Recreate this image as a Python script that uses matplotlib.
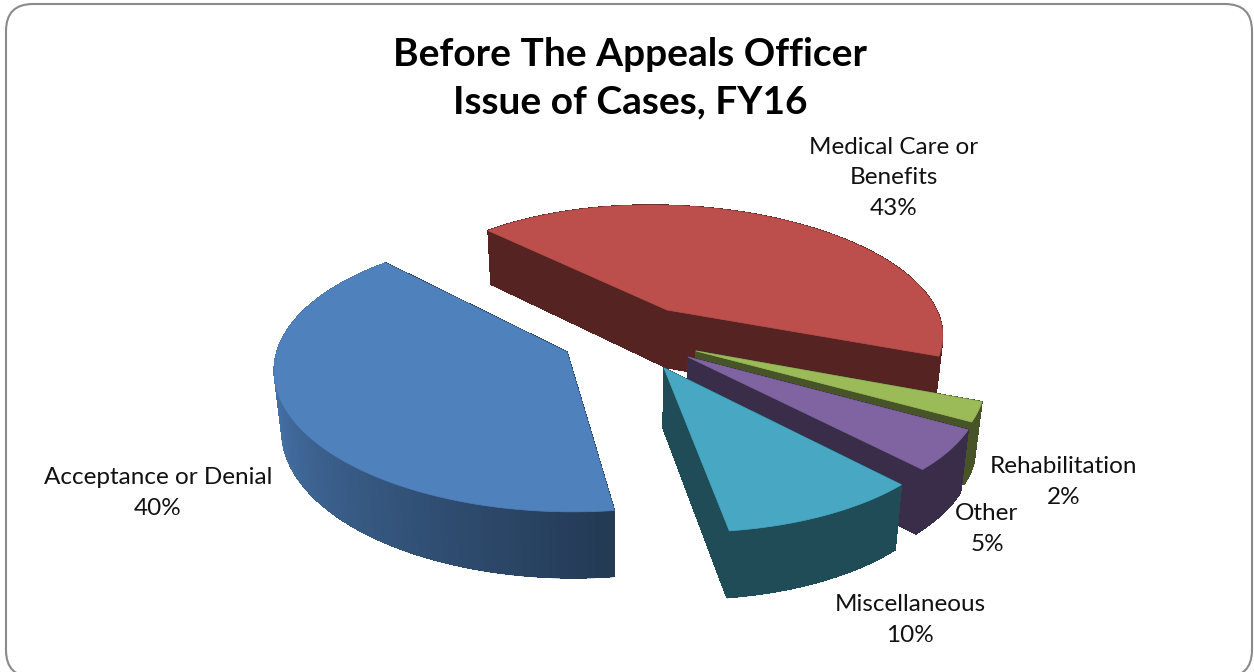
import numpy as np
import matplotlib
matplotlib.use('Agg')
import matplotlib.pyplot as plt
from matplotlib.patches import FancyBboxPatch, Polygon

plt.rcParams['font.family'] = ['Lato', 'DejaVu Sans']

title = 'Before The Appeals Officer\nIssue of Cases, FY16'
labels = ['Medical Care or\nBenefits', 'Rehabilitation', 'Other', 'Miscellaneous', 'Acceptance or Denial']
# labels show these rounded; the unrounded values are estimated from the slice widths
shares = [42.9, 2.4, 5.0, 9.7, 40.0]

colors = ['#bc4f4c', '#9bbb59', '#8064a2', '#48a8c4', '#4f81bd']
# where each slice's tip sits on the floor of the pie, and its radius
explode_u = [0.4824, 0.5611, 0.5296, 0.4411, 0.1114]
explode_v = [-0.2762, 0.0452, 0.0897, 0.1698, 0.0526]
radius = [0.985, 0.98, 0.99, 1.0, 1.01]
label_xy = [(894, 178), (1064, 482), (987, 529), (910, 620), (158, 493)]

START = -133.0
CX, CY, A, B, K = 535.0, 345.0, 285.0, 132.0, 0.15


def project(u, v):
    den = 1 - K * v
    return CX + A * u / den, CY + B * v / den


def drop(u, v):
    """Screen position of the underside of a floor point"""
    x, y = project(u, v)
    return x - (x - 620) * 0.022, y + 59 / (1 - 0.1 * v)


def shade(color, phi):
    f = 0.45 + 0.5 * np.clip((phi - 84) / 96, 0, 1)
    return tuple(c * f for c in matplotlib.colors.to_rgb(color))


def draw_slice(ax, start, sweep, color, ou, ov, r):
    phis = np.linspace(start, start + sweep, max(int(sweep / 0.6), 4))
    us = ou + r * np.cos(np.radians(phis))
    vs = ov + r * np.sin(np.radians(phis))

    faces = []
    for i in range(len(phis) - 1):
        quad = [project(us[i], vs[i]), project(us[i + 1], vs[i + 1]),
                drop(us[i + 1], vs[i + 1]), drop(us[i], vs[i])]
        faces.append((quad, shade(color, phis[i])))
    for k in (0, -1):
        quad = [project(ou, ov), project(us[k], vs[k]), drop(us[k], vs[k]), drop(ou, ov)]
        faces.append((quad, shade(color, 0)))

    # aliased fill so the strips don't show seams, then a smooth stroke along the lower edge
    faces.sort(key=lambda f: np.mean([p[1] for p in f[0]]))
    for quad, col in faces:
        xs, ys = zip(quad[2], quad[3])
        ax.plot(xs, ys, color=col, lw=0.9, solid_capstyle='round', zorder=1)
        ax.add_patch(Polygon(quad, closed=True, facecolor=col, edgecolor=col, lw=0.4,
                             antialiased=False, zorder=1))

    top = [project(ou, ov)] + [project(a, b) for a, b in zip(us, vs)]
    ax.add_patch(Polygon(top, closed=True, facecolor=color, edgecolor=color, lw=0.5, zorder=1))


fig = plt.figure(figsize=(12.54, 6.72), dpi=100)
ax = fig.add_axes([0, 0, 1, 1])
ax.set_xlim(0, 1254)
ax.set_ylim(672, 0)
ax.axis('off')

ax.add_patch(FancyBboxPatch((6, 4), 1246, 673, boxstyle='round,pad=0,rounding_size=27',
                            fc='white', ec='#8a8a8a', lw=1.5, zorder=0))

angle = START
for share, color, ou, ov, r in zip(shares, colors, explode_u, explode_v, radius):
    sweep = share * 3.6
    draw_slice(ax, angle, sweep, color, ou, ov, r)
    angle += sweep

ax.text(630, 78, title, ha='center', va='center', fontsize=28, fontweight='bold',
        linespacing=1.42, color='black')
for name, share, (x, y) in zip(labels, shares, label_xy):
    ax.text(x, y, f'{name}\n{share:.0f}%', ha='center', va='center', fontsize=17.5,
            linespacing=1.55, color='#111111')

fig.savefig('out.png', dpi=100)
